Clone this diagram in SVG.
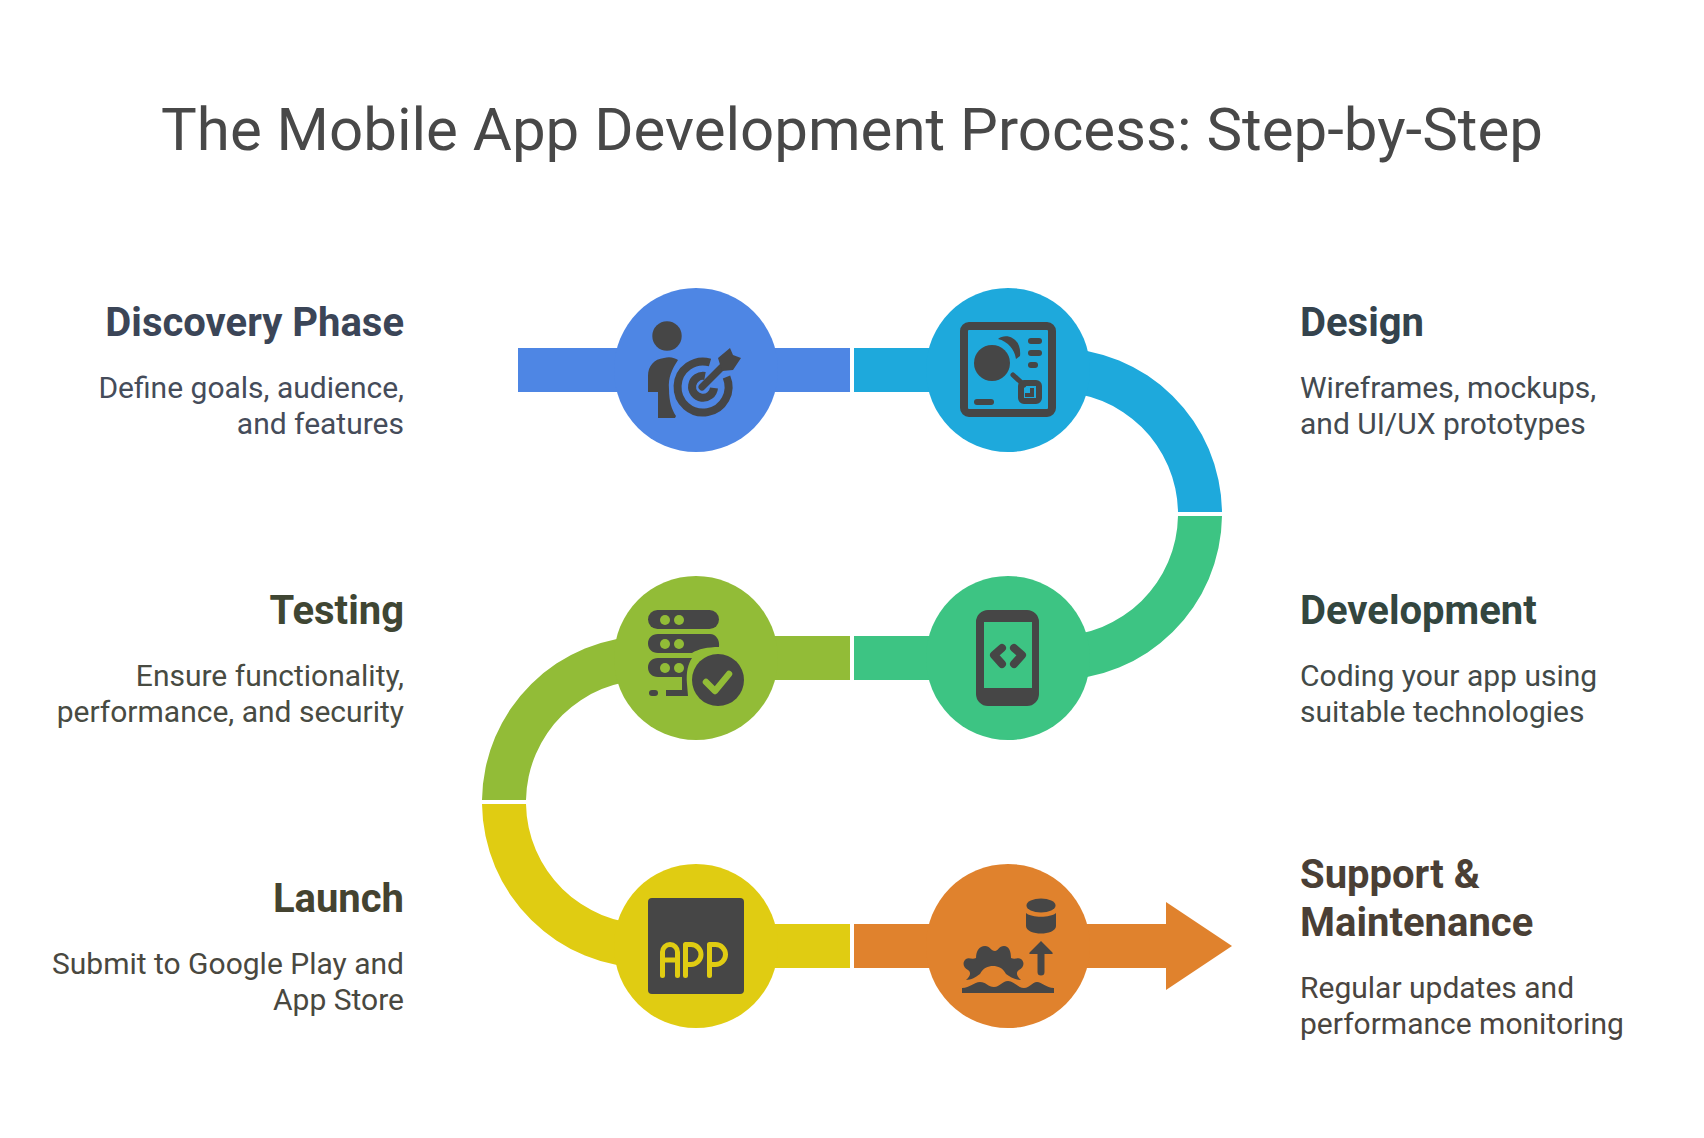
<svg xmlns="http://www.w3.org/2000/svg" width="1704" height="1138" viewBox="0 0 1704 1138">
<style>
text{font-family:Roboto,"Liberation Sans",sans-serif}
.title{font-size:60px;fill:#484848}
.h{font-size:40px;font-weight:700}
.b{font-size:30px}
.r{text-anchor:end}
.ic{fill:#464646}
</style>
<rect width="1704" height="1138" fill="#fff"/>
<text class="title" x="852" y="150" text-anchor="middle">The Mobile App Development Process: Step-by-Step</text>
<g id="connectors">
<rect x="518" y="348" width="332" height="44" fill="#4E86E4"/>
<path d="M854 348H1056A166 166 0 0 1 1222 512H1178A122 122 0 0 0 1056 392H854Z" fill="#1EA9DC"/>
<path d="M1222 516A166 166 0 0 1 1056 680H854V636H1056A122 122 0 0 0 1178 516Z" fill="#3DC483"/>
<path d="M850 636H648A166 166 0 0 0 482 800H526A122 122 0 0 1 648 680H850Z" fill="#92BC37"/>
<path d="M482 804A166 166 0 0 0 648 968H850V924H648A122 122 0 0 1 526 804Z" fill="#E0CC12"/>
<path d="M854 924H1166V902L1232 946L1166 990V968H854Z" fill="#E0822D"/>
</g>
<g id="discovery">
<circle cx="696" cy="370" r="82" fill="#4E86E4"/>
<circle class="ic" cx="667" cy="336" r="14.7"/>
<path class="ic" d="M664 358C670 356 675 358 678 360C672 369 668 378 669 389C669 402 672 410 676 416L675 418H658V392H648V376C648 366 654 359 664 358Z"/>
<path d="M710 362.500A25.500 25.500 0 1 0 726.500 377" fill="none" stroke="#464646" stroke-width="8"/>
<path d="M705 376A11 11 0 1 0 714 388" fill="none" stroke="#464646" stroke-width="8"/>
<path d="M702 387L722 367" stroke="#464646" stroke-width="7" stroke-linecap="round"/>
<path class="ic" d="M718 358L730 348L733 355L741 358L733 370L722 371Z"/>
</g>
<g id="design">
<circle cx="1008" cy="370" r="82" fill="#1EA9DC"/>
<rect x="964" y="326" width="88" height="87" rx="5" fill="none" stroke="#464646" stroke-width="8"/>
<circle class="ic" cx="992" cy="363" r="18"/>
<path class="ic" d="M998 339C1006 332 1022 338 1020 356L1016 359A24 24 0 0 0 998 339Z"/>
<rect class="ic" x="1028" y="338" width="14" height="6" rx="3"/>
<rect class="ic" x="1028" y="350" width="14" height="6" rx="3"/>
<rect class="ic" x="1028" y="362" width="10" height="6" rx="3"/>
<rect class="ic" x="974" y="399" width="20" height="6" rx="3"/>
<path d="M1013 375L1024 385" stroke="#464646" stroke-width="5" stroke-linecap="round"/>
<rect x="1021" y="383" width="18" height="18" rx="3" fill="none" stroke="#464646" stroke-width="6"/>
<path class="ic" d="M1025 393H1030V388H1034V397H1025Z"/>
</g>
<g id="development">
<circle cx="1008" cy="658" r="82" fill="#3DC483"/>
<path class="ic" fill-rule="evenodd" d="M988 610H1027A12 12 0 0 1 1039 622V694A12 12 0 0 1 1027 706H988A12 12 0 0 1 976 694V622A12 12 0 0 1 988 610ZM984 622V688H1032V622Z"/>
<path d="M1002 648L994 655L1002 664M1014 648L1022 655L1014 664" fill="none" stroke="#464646" stroke-width="8" stroke-linecap="round" stroke-linejoin="round"/>
</g>
<g id="testing">
<circle cx="696" cy="658" r="82" fill="#92BC37"/>
<rect class="ic" x="648" y="610" width="71" height="19" rx="9.500"/>
<circle cx="665" cy="620" r="5" fill="#92BC37"/><circle cx="679" cy="620" r="5" fill="#92BC37"/>
<path class="ic" d="M658 634H710C716 634 720 640 719 647C708 647 698 649 692 653H658C652 653 648 649 648 643.500S652 634 658 634Z"/>
<circle cx="665" cy="644" r="5" fill="#92BC37"/><circle cx="679" cy="644" r="5" fill="#92BC37"/>
<path class="ic" d="M658 658H692C688 664 686 672 687 684L688 696H666V690H682V677H658C652 677 648 673 648 667.500S652 658 658 658Z"/>
<circle cx="665" cy="668" r="5" fill="#92BC37"/><circle cx="679" cy="668" r="5" fill="#92BC37"/>
<rect class="ic" x="649" y="690" width="9" height="6" rx="3"/>
<circle class="ic" cx="718" cy="680" r="26"/>
<path d="M706 682L715 691L729 674" fill="none" stroke="#92BC37" stroke-width="6.500" stroke-linecap="round" stroke-linejoin="round"/>
</g>
<g id="launch">
<circle cx="696" cy="946" r="82" fill="#E0CC12"/>
<rect class="ic" x="648" y="898" width="96" height="96" rx="4"/>
<path d="M662.500 975.500V952A7.500 7.500 0 0 1 677.500 952V975.500M662.500 960H677.500M685.500 975.500V944.500H691A10 10 0 0 1 691 964.500H685.500M709.500 975.500V944.500H715.500A10 10 0 0 1 715.500 964.500H709.500" fill="none" stroke="#E0CC12" stroke-width="5" stroke-linecap="round" stroke-linejoin="round"/>
</g>
<g id="support">
<circle cx="1008" cy="946" r="82" fill="#E0822D"/>
<ellipse class="ic" cx="1041" cy="905.500" rx="14.500" ry="7"/>
<path class="ic" d="M1026 913C1032 918 1050 918 1056 913V926C1056 931 1048 933.500 1041 933.500S1026 931 1026 926Z"/>
<path class="ic" d="M1041 941L1052 952Q1054 954 1051 954H1044.500V972A3.500 3.500 0 0 1 1037.500 972V954H1031Q1028 954 1030 952Z"/>
<path class="ic" d="M995 951C998 951 999 946 1004 946C1009 946 1011 951 1011 958C1015 960 1018 957 1021 959C1025 962 1024 968 1019 970C1016 972 1016 976 1021 980C1015 980 1010 977 1006 974C1003 968 998 966 993 966C988 966 983 968 980 974C976 977 971 980 966 980C971 976 971 972 968 970C963 968 962 962 966 959C969 957 972 960 976 958C976 951 979 946 985 946C990 946 991 951 995 951Z"/>
<path class="ic" d="M962 993V988C970 988 974 982 980 982C986 982 988 987 994 987C1000 987 1002 981 1008 981C1014 981 1018 988 1024 988C1030 988 1032 982 1037 982C1042 982 1046 988 1054 988V993Z"/>
</g>
<g id="label-discovery"><text class="h r" x="404" y="336" fill="#3b4557">Discovery Phase</text><text class="b r" x="404" y="398" fill="#454c5a">Define goals, audience,</text><text class="b r" x="404" y="434" fill="#454c5a">and features</text></g>
<g id="label-design"><text class="h" x="1300" y="336" fill="#34434d">Design</text><text class="b" x="1300" y="398" fill="#434a50">Wireframes, mockups,</text><text class="b" x="1300" y="434" fill="#434a50">and UI/UX prototypes</text></g>
<g id="label-testing"><text class="h r" x="404" y="624" fill="#3f4633">Testing</text><text class="b r" x="404" y="686" fill="#484b42">Ensure functionality,</text><text class="b r" x="404" y="722" fill="#484b42">performance, and security</text></g>
<g id="label-development"><text class="h" x="1300" y="624" fill="#33463f">Development</text><text class="b" x="1300" y="686" fill="#434a47">Coding your app using</text><text class="b" x="1300" y="722" fill="#434a47">suitable technologies</text></g>
<g id="label-launch"><text class="h r" x="404" y="912" fill="#444330">Launch</text><text class="b r" x="404" y="974" fill="#494840">Submit to Google Play and</text><text class="b r" x="404" y="1010" fill="#494840">App Store</text></g>
<g id="label-support"><text class="h" x="1300" y="888" fill="#4a3f35">Support &amp;</text><text class="h" x="1300" y="936" fill="#4a3f35">Maintenance</text><text class="b" x="1300" y="998" fill="#4a4540">Regular updates and</text><text class="b" x="1300" y="1034" fill="#4a4540">performance monitoring</text></g>
</svg>
